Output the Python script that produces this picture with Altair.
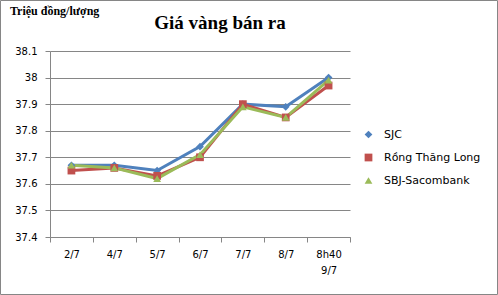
import altair as alt
import pandas as pd

categories = ["2/7", "4/7", "5/7", "6/7", "7/7", "8/7", "8h40\n9/7"]
series_names = ["SJC", "Rồng Thăng Long", "SBJ-Sacombank"]
sjc = [37.67, 37.67, 37.65, 37.74, 37.90, 37.89, 38.00]
rong_thang_long = [37.65, 37.66, 37.63, 37.70, 37.90, 37.85, 37.97]
sbj_sacombank = [37.67, 37.66, 37.62, 37.71, 37.89, 37.85, 37.99]
colors = ["#4F81BD", "#C0504D", "#9BBB59"]
shapes = ["diamond", "square", "triangle-up"]
unit_label = "Triệu đồng/lượng"

rows = []
for name, vals in zip(series_names, [sjc, rong_thang_long, sbj_sacombank]):
    for c, v in zip(categories, vals):
        rows.append({"date": c, "series": name, "value": v, "order": series_names.index(name)})
df = pd.DataFrame(rows)

x_enc = alt.X(
    "date:N",
    sort=categories,
    bandPosition=0.5,
    scale=alt.Scale(type="band", paddingInner=0, paddingOuter=0),
    axis=alt.Axis(
        title=None,
        labelAngle=0,
        labelExpr="split(datum.label, '\\n')",
        labelFont="DejaVu Sans",
        labelFontSize=10,
        labelColor="#000000",
        labelPadding=12,
        labelLineHeight=16,
        labelBaseline="middle",
        tickBand="extent",
        tickColor="#868686",
        tickSize=5,
        domainColor="#868686",
        grid=False,
    ),
)
y_enc = alt.Y(
    "value:Q",
    scale=alt.Scale(domain=[37.4, 38.1], nice=False, zero=False),
    axis=alt.Axis(
        title=None,
        values=[37.4, 37.5, 37.6, 37.7, 37.8, 37.9, 38.0, 38.1],
        format="~g",
        labelFont="DejaVu Sans",
        labelFontSize=10,
        labelColor="#000000",
        labelPadding=8,
        tickColor="#868686",
        tickSize=5,
        domainColor="#868686",
        gridColor="#868686",
        gridOpacity=1,
    ),
)
color_scale = alt.Scale(domain=series_names, range=colors)
shape_scale = alt.Scale(domain=series_names, range=shapes)
legend = alt.Legend(
    title=None,
    orient="none",
    legendX=313,
    legendY=78,
    labelFont="DejaVu Sans",
    labelFontSize=11,
    labelColor="#000000",
    rowPadding=11,
    symbolSize=60,
    symbolStrokeWidth=0,
    labelOffset=10,
)

lines = alt.Chart(df).mark_line(strokeWidth=3).encode(
    x=x_enc, y=y_enc,
    color=alt.Color("series:N", sort=series_names, scale=color_scale, legend=legend),
    order="order:Q", detail="series:N",
)
points = alt.Chart(df).mark_point(filled=True, size=60, opacity=1).encode(
    x=x_enc, y=y_enc,
    color=alt.Color("series:N", sort=series_names, scale=color_scale, legend=legend),
    shape=alt.Shape("series:N", sort=series_names, scale=shape_scale, legend=legend),
)

unit_text = alt.Chart(pd.DataFrame({"t": [unit_label]})).mark_text(
    font="Liberation Serif", fontSize=12, fontWeight="bold", color="#000000",
    align="left", baseline="alphabetic",
).encode(x=alt.value(-40), y=alt.value(-36), text="t:N")

border = alt.Chart(pd.DataFrame({"a": [0]})).mark_rect(
    fill=None, stroke="#868686", strokeWidth=1
).encode(
    x=alt.value(-49.5), x2=alt.value(447.5), y=alt.value(-50.5), y2=alt.value(243.5)
)

chart = alt.layer(border, unit_text, lines, points).properties(
    width=300,
    height=186,
    title=alt.Title(
        "Giá vàng bán ra",
        font="Liberation Serif",
        fontSize=19,
        fontWeight="bold",
        color="#000000",
        anchor="middle",
        frame="group",
        baseline="alphabetic",
        dx=20,
        dy=48,
        offset=0,
    ),
    padding={"left": 50, "top": 51, "right": 148, "bottom": 58},
    autosize=alt.AutoSizeParams(type="none"),
).configure_view(stroke=None)

chart.save("out.html", embed_options={"renderer": "svg", "actions": False})
